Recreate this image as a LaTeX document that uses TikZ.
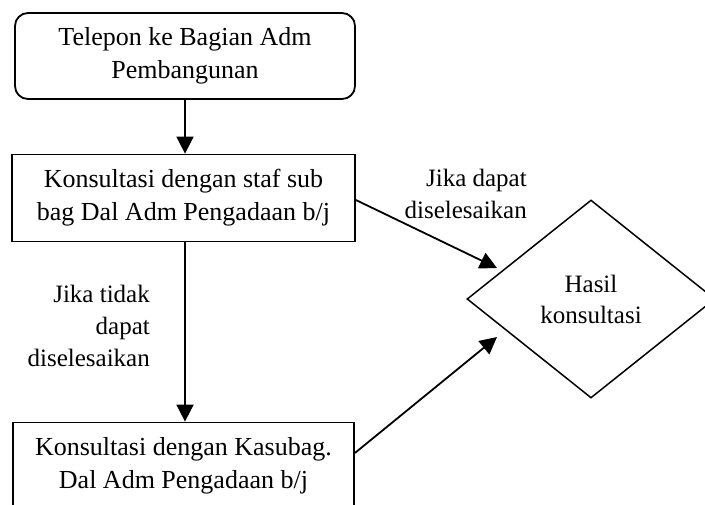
\documentclass[tikz,border=0pt]{standalone}
\usepackage{fontspec}
\setmainfont{Liberation Serif}
\usetikzlibrary{shapes.geometric,arrows.meta}
\begin{document}
\begin{tikzpicture}[x=1pt,y=-1pt,
  boxtext/.style={font=\fontsize{26}{33}\selectfont, align=center},
  procbox/.style={draw, line width=1.8pt, rectangle, minimum width=343pt, minimum height=87pt, inner sep=0pt, boxtext},
  startbox/.style={procbox, rounded corners=13pt, minimum width=340pt, minimum height=86pt},
  decision/.style={draw, line width=1.5pt, diamond, minimum width=248pt, minimum height=198pt, inner sep=0pt, font=\fontsize{25}{31}\selectfont, align=center},
  lbl/.style={font=\fontsize{25}{32}\selectfont, align=right, inner sep=0pt, anchor=east},
  conn/.style={line width=1.8pt, -{Triangle[length=17pt,width=17pt]}}
]
\useasboundingbox (0,0) rectangle (705,504);
\node[startbox] (start) at (185,56) {Telepon ke Bagian Adm\\Pembangunan};
\node[procbox] (staf) at (183.5,198) {Konsultasi dengan staf sub\\bag Dal Adm Pengadaan b/j};
\node[procbox, minimum width=341pt] (kasubag) at (183.5,466) {Konsultasi dengan Kasubag.\\Dal Adm Pengadaan b/j};
\node[decision] (hasil) at (591,299) {Hasil\\konsultasi};
\coordinate (t1) at (497,268);
\coordinate (t2) at (497,337);
\draw[conn] (start.south -| 185,0) -- (staf.north -| 185,0);
\draw[conn] (staf.south -| 185,0) -- (kasubag.north -| 185,0);
\draw[conn] ([yshift=-2pt]staf.east) -- (t1);
\draw[conn] ([yshift=13pt]kasubag.east) -- (t2);
\node[lbl] (lab1) at (527,194) {Jika dapat\\diselesaikan};
\node[lbl] (lab2) at (150,326) {Jika tidak\\dapat\\diselesaikan};
\end{tikzpicture}
\end{document}
